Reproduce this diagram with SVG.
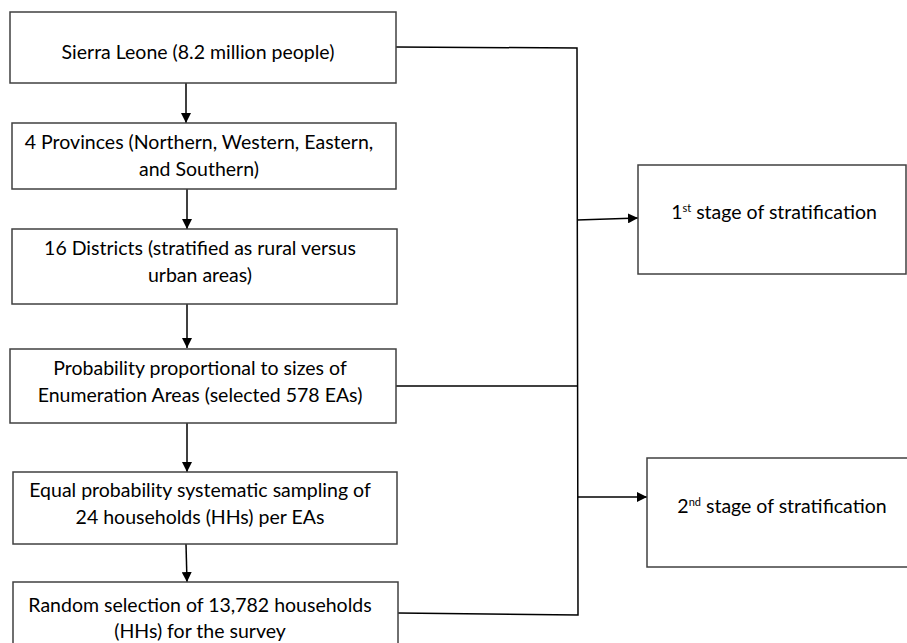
<svg xmlns="http://www.w3.org/2000/svg" width="907" height="643" viewBox="0 0 907 643">
<style>
.box{fill:#fff;stroke:#404040;stroke-width:1.5}
.t{font-family:Lato,"Liberation Sans",sans-serif;font-size:19.5px;fill:#000;text-anchor:middle}
.sup{font-size:11px}
.c{fill:none;stroke:#000;stroke-width:1.5}
</style>
<defs>
<marker id="ah" markerWidth="10" markerHeight="10" refX="10" refY="5" orient="auto" markerUnits="userSpaceOnUse">
<path d="M0,0 L10,5 L0,10 Z" fill="#000"/>
</marker>
</defs>
<rect width="907" height="643" fill="#fff"/>
<g id="connectors">
<line class="c" x1="186" y1="83" x2="186" y2="123" marker-end="url(#ah)"/>
<line class="c" x1="187" y1="189" x2="187" y2="229" marker-end="url(#ah)"/>
<line class="c" x1="187" y1="304" x2="187" y2="348" marker-end="url(#ah)"/>
<line class="c" x1="187" y1="423" x2="187" y2="472" marker-end="url(#ah)"/>
<line class="c" x1="186" y1="544" x2="187" y2="582" marker-end="url(#ah)"/>
<polyline class="c" points="396,47 577,48 578,615 398,613"/>
<line class="c" x1="396" y1="386" x2="578" y2="386"/>
<line class="c" x1="577" y1="220" x2="638" y2="218" marker-end="url(#ah)"/>
<line class="c" x1="578" y1="497" x2="647" y2="497" marker-end="url(#ah)"/>
</g>
<g id="n1"><rect class="box" x="10" y="12" width="386" height="71"/><text class="t" x="198" y="59">Sierra Leone (8.2 million people)</text></g>
<g id="n2"><rect class="box" x="12" y="123" width="384" height="66"/><text class="t" x="199" y="149">4 Provinces (Northern, Western, Eastern,</text><text class="t" x="199" y="176">and Southern)</text></g>
<g id="n3"><rect class="box" x="12" y="229" width="385" height="75"/><text class="t" x="200" y="255">16 Districts (stratified as rural versus</text><text class="t" x="200" y="282">urban areas)</text></g>
<g id="n4"><rect class="box" x="10" y="349" width="386" height="74"/><text class="t" x="200" y="375">Probability proportional to sizes of</text><text class="t" x="200" y="402">Enumeration Areas (selected 578 EAs)</text></g>
<g id="n5"><rect class="box" x="13" y="472" width="384" height="72"/><text class="t" x="200" y="497">Equal probability systematic sampling of</text><text class="t" x="200" y="524">24 households (HHs) per EAs</text></g>
<g id="n6"><rect class="box" x="13" y="582" width="385" height="70"/><text class="t" x="200" y="612">Random selection of 13,782 households</text><text class="t" x="200" y="638">(HHs) for the survey</text></g>
<g id="r1"><rect class="box" x="638" y="165" width="268" height="109"/><text class="t" x="774" y="219">1<tspan class="sup" dy="-7">st</tspan><tspan dy="7"> stage of stratification</tspan></text></g>
<g id="r2"><rect class="box" x="647" y="458" width="270" height="109"/><text class="t" x="782" y="513">2<tspan class="sup" dy="-7">nd</tspan><tspan dy="7"> stage of stratification</tspan></text></g>
</svg>
